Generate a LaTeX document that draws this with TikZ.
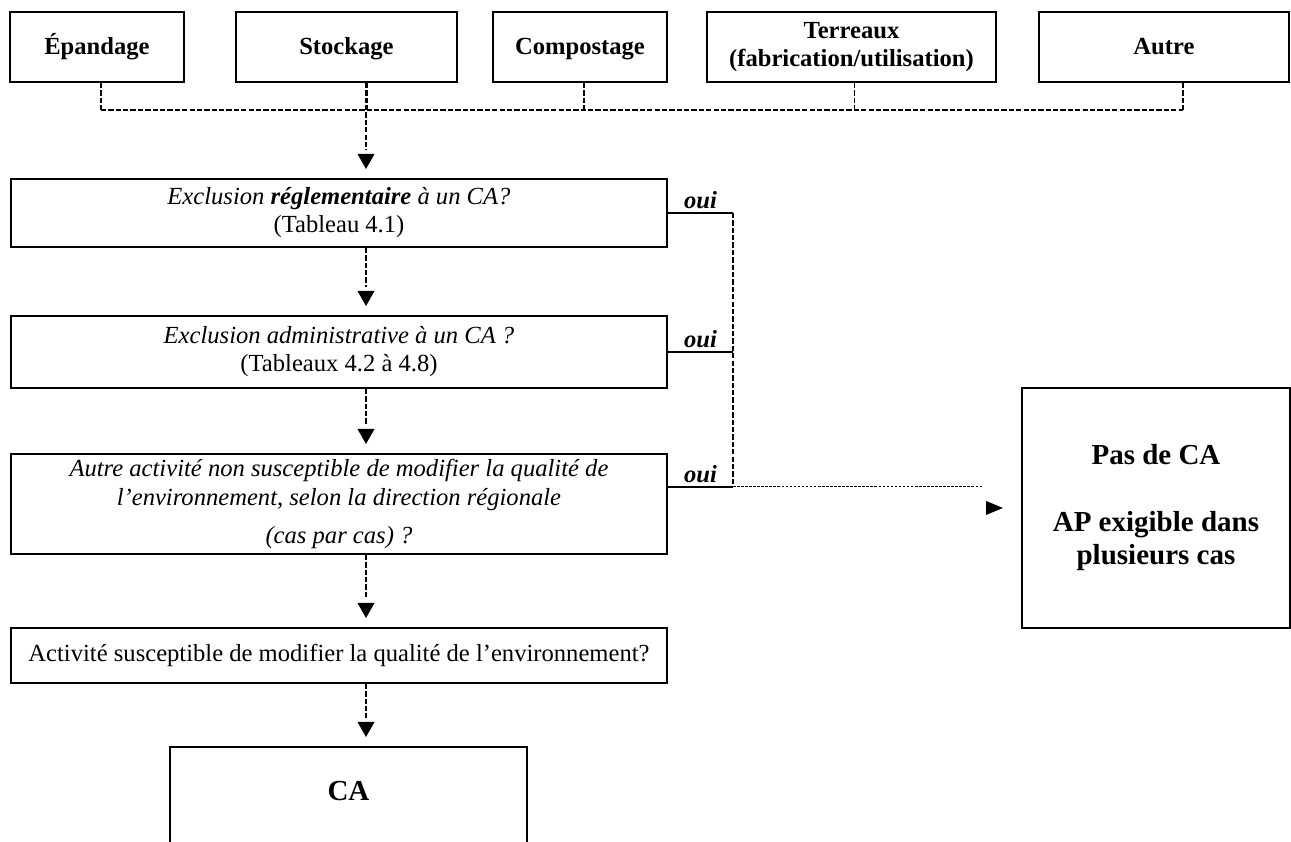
\documentclass[tikz,border=0pt]{standalone}
\usepackage{fontspec}
\setmainfont{Liberation Serif}
\usetikzlibrary{calc}

\begin{document}
\begin{tikzpicture}[
    every node/.style={font=\fontsize{14}{16}\selectfont},
    topbox/.style={draw, line width=1.1pt, anchor=north west, minimum height=1.4cm, align=center, inner sep=2pt, font=\fontsize{14}{16}\selectfont\bfseries, execute at begin node=\vphantom{Ég}},
    qbox/.style={draw, line width=1.1pt, anchor=north west, minimum width=13.12cm, align=center, inner sep=2pt},
    endbox/.style={draw, line width=1.1pt, anchor=north west, align=center, font=\fontsize{16.5}{18.8}\selectfont\bfseries},
    dline/.style={line width=0.8pt, dash pattern=on 3pt off 1.2pt},
    dotline/.style={line width=0.6pt, dash pattern=on 1.5pt off 0.8pt},
    yesline/.style={line width=1pt},
    yes/.style={font=\fontsize{14}{16}\selectfont\bfseries\itshape, inner sep=1pt, above=1pt}
  ]
  \useasboundingbox (0,0) rectangle (25.82,-16.84);

  % types of use
  \node[topbox, minimum width=3.48cm] (epand) at (0.18,-0.22) {Épandage};
  \node[topbox, minimum width=4.42cm] (stock) at (4.70,-0.22) {Stockage};
  \node[topbox, minimum width=3.48cm] (compost) at (9.84,-0.22) {Compostage};
  \node[topbox, minimum width=5.78cm] (terr) at (14.12,-0.22) {Terreaux\\(fabrication/utilisation)};
  \node[topbox, minimum width=5.00cm] (autre) at (20.76,-0.22) {Autre};

  \coordinate (rail) at (0,-2.2);
  \coordinate (col) at (7.32,0);
  \coordinate (bus) at (14.66,0);

  % questions
  \node[qbox, minimum height=1.36cm] (q1) at (0.20,-3.56) {\textit{Exclusion \textbf{réglementaire} à un CA?}\\(Tableau 4.1)};
  \node[qbox, minimum height=1.44cm] (q2) at (0.20,-6.30) {\textit{Exclusion administrative à un CA ?}\\(Tableaux 4.2 à 4.8)};
  \node[qbox, minimum height=2.0cm, font=\fontsize{14}{16}\selectfont\itshape] (q3) at (0.20,-9.06) {Autre activité non susceptible de modifier la qualité de\\l’environnement, selon la direction régionale\\[0.2cm](cas par cas) ?};
  \node[qbox, minimum height=1.1cm] (q4) at (0.20,-12.54) {Activité susceptible de modifier la qualité de l’environnement?};

  % outcomes
  \node[endbox, minimum width=7.14cm, text height=0.7cm, text depth=2cm, inner ysep=0.38cm] (ca) at (3.38,-14.92) {CA};
  \node[endbox, minimum width=5.36cm, minimum height=4.8cm] (pas) at (20.42,-7.74) {Pas de CA\\[0.68cm]AP exigible dans\\plusieurs cas};

  % collector line
  \foreach \n/\dx in {epand/0.08, stock/0.42, compost/0.08, terr/0.06, autre/0.38} {
    \draw[dline] ([xshift=\dx cm]\n.south) -- ([xshift=\dx cm]\n.south |- rail);
  }
  \draw[dline] ([xshift=0.08cm]epand.south |- rail) -- ([xshift=0.38cm]autre.south |- rail);

  % main chain
  \foreach \a/\b in {stock/q1, q1/q2, q2/q3, q3/q4, q4/ca} {
    \draw[dline] (\a.south -| col) -- ([yshift=0.56cm]\b.north -| col);
    \fill ([yshift=0.18cm]\b.north -| col) -- ++(-0.17,0.3) -- ++(0.34,0) -- cycle;
  }

  % oui branches
  \coordinate (y3) at ([yshift=0.34cm]q3.east);
  \draw[yesline] (q1.east) -- (q1.east -| bus) node[yes, midway] {oui};
  \draw[yesline] (q2.east) -- (q2.east -| bus) node[yes, midway] {oui};
  \draw[yesline] (y3) -- (y3 -| bus) node[yes, midway] {oui};
  \draw[dline] (q1.east -| bus) -- (y3 -| bus);
  \draw[dotline] (y3 -| bus) -- ([xshift=-0.78cm]y3 -| pas.west);
  \fill ([xshift=-0.36cm]pas.west) -- ++(-0.34,0.14) -- ++(0,-0.28) -- cycle;
\end{tikzpicture}
\end{document}
